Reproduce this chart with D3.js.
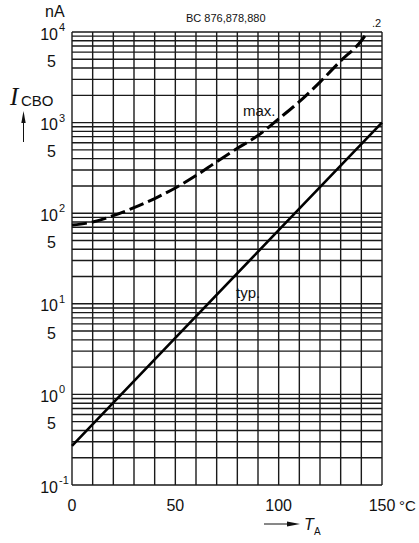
<!DOCTYPE html>
<html>
<head>
<meta charset="utf-8">
<script src="https://cdn.jsdelivr.net/npm/d3@7"></script>
<style>
  html, body { margin: 0; padding: 0; background: #fff; }
  svg { display: block; }
  text { fill: #111; }
</style>
</head>
<body>
<script>
// ---- data ----
const tempTicks = [0, 50, 100, 150];
const gridTemps = d3.range(0, 151, 10);
const decadeExps = [-1, 0, 1, 2, 3, 4];
const fiveLabels = [0.5, 5, 50, 500, 5000];

// typical curve (solid, straight in log scale)
const typT = [0, 50, 100, 150];
const typI = [0.27, 4.2, 65, 1000];

// maximum curve (dashed)
const maxT = [0, 10, 20, 30, 40, 50, 60, 70, 80, 90, 100, 110, 120, 130, 140, 143];
const maxI = [74, 80, 94, 115, 145, 190, 260, 370, 520, 720, 1100, 1700, 2800, 4800, 8000, 10000];

const W = 419, H = 543;
const svg = d3.select("body").append("svg").attr("width", W).attr("height", H);

const x = d3.scaleLinear().domain([0, 150]).range([72, 382]);
const y = d3.scaleLog().domain([0.1, 10000]).range([485, 32]);

// ---- grid ----
const grid = svg.append("g");
const minorVals = [];
decadeExps.forEach(e => {
  for (let k = 1; k <= 9; k++) {
    const v = k * Math.pow(10, e);
    if (v >= 0.1 && v <= 10000) minorVals.push(v);
  }
});
grid.selectAll("line.h").data(minorVals).join("line")
  .attr("x1", x(0)).attr("x2", x(150))
  .attr("y1", d => y(d)).attr("y2", d => y(d))
  .attr("stroke", "#1a1a1a").attr("stroke-width", 1.4);
grid.selectAll("line.v").data(gridTemps).join("line")
  .attr("y1", y(0.1)).attr("y2", y(10000))
  .attr("x1", d => x(d)).attr("x2", d => x(d))
  .attr("stroke", "#1a1a1a").attr("stroke-width", 1.4);

// ---- curves ----
const line = d3.line().x(d => x(d[0])).y(d => y(d[1])).curve(d3.curveMonotoneX);
svg.append("path")
  .datum(typT.map((t, i) => [t, typI[i]]))
  .attr("d", line)
  .attr("fill", "none").attr("stroke", "#000").attr("stroke-width", 2.6);
svg.append("path")
  .datum(maxT.map((t, i) => [t, maxI[i]]))
  .attr("d", line)
  .attr("fill", "none").attr("stroke", "#000").attr("stroke-width", 3)
  .attr("stroke-dasharray", "15,5");

// ---- y tick labels ----
const font = "'Liberation Sans', Arial, sans-serif";
const yl = svg.append("g").attr("font-family", font);
decadeExps.forEach(e => {
  const yy = y(Math.pow(10, e));
  yl.append("text").attr("x", 58).attr("y", yy + 7.5).attr("text-anchor", "end")
    .attr("font-size", 16).text("10");
  yl.append("text").attr("x", 59).attr("y", yy - 1).attr("text-anchor", "start")
    .attr("font-size", 11).text(e < 0 ? "-1" : String(e));
});
yl.selectAll("text.five").data(fiveLabels).join("text")
  .attr("x", 56).attr("y", d => y(d) + 7.5).attr("text-anchor", "end")
  .attr("font-size", 16).text("5");

// ---- x tick labels ----
const xl = svg.append("g").attr("font-family", font);
xl.selectAll("text.t").data(tempTicks).join("text")
  .attr("x", d => x(d)).attr("y", 511).attr("text-anchor", "middle")
  .attr("font-size", 16).text(d => d);
xl.append("text").attr("x", 399).attr("y", 511).attr("font-size", 15).text("°C");

// ---- axis titles ----
svg.append("text").attr("x", 45).attr("y", 17).attr("font-family", font)
  .attr("font-size", 16).text("nA");
svg.append("text").attr("x", 10).attr("y", 105)
  .attr("font-family", "'Liberation Serif', 'DejaVu Serif', serif")
  .attr("font-style", "italic").attr("font-size", 25).text("I");
svg.append("text").attr("x", 21).attr("y", 106).attr("font-family", font)
  .attr("font-size", 15).text("CBO");

// up arrow
svg.append("line").attr("x1", 23.5).attr("x2", 23.5).attr("y1", 142).attr("y2", 120)
  .attr("stroke", "#111").attr("stroke-width", 1);
svg.append("path").attr("d", "M23.5,111 L21.3,123 L25.7,123 Z").attr("fill", "#111");

// T_A with arrow
svg.append("line").attr("x1", 264).attr("x2", 290).attr("y1", 524).attr("y2", 524)
  .attr("stroke", "#111").attr("stroke-width", 1);
svg.append("path").attr("d", "M300,524 L287,521.5 L287,526.5 Z").attr("fill", "#111");
svg.append("text").attr("x", 304).attr("y", 530).attr("font-family", font)
  .attr("font-style", "italic").attr("font-size", 16).text("T");
svg.append("text").attr("x", 314).attr("y", 535).attr("font-family", font)
  .attr("font-size", 10).text("A");

// ---- annotations ----
svg.append("text").attr("x", 186).attr("y", 22).attr("font-family", font)
  .attr("font-size", 11).text("BC 876,878,880");
svg.append("text").attr("x", 372).attr("y", 27).attr("font-family", font)
  .attr("font-size", 11).text(".2");
svg.append("text").attr("x", 243).attr("y", 116).attr("font-family", font)
  .attr("font-size", 15).text("max.");
svg.append("text").attr("x", 236).attr("y", 298).attr("font-family", font)
  .attr("font-size", 15).text("typ.");
</script>
</body>
</html>
